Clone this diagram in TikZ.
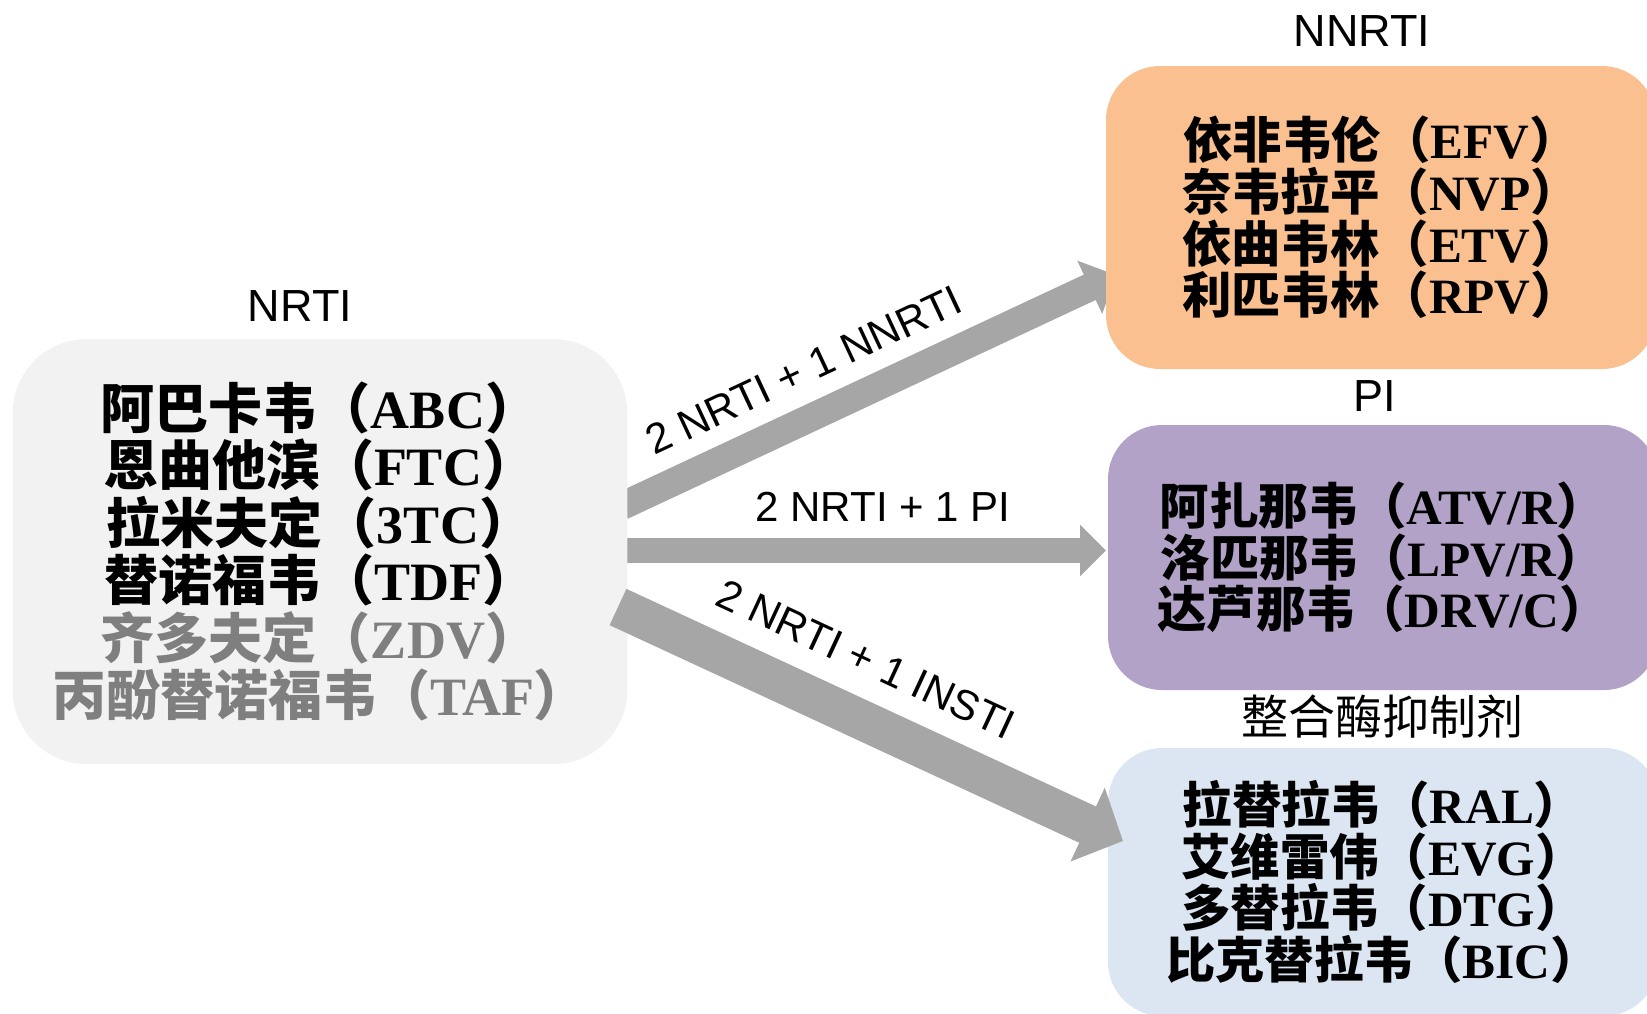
\documentclass[tikz,border=0pt]{standalone}
\usepackage{fontspec}
\usetikzlibrary{arrows.meta}
\setmainfont{Liberation Sans}
\newfontfamily\cjk{Noto Sans CJK SC}
\newfontfamily\tnr{Liberation Serif}
\newfontfamily\arial{Liberation Sans}
\definecolor{arrowgray}{HTML}{A6A6A6}
\definecolor{nrtifill}{HTML}{F2F2F2}
\definecolor{nnrtifill}{HTML}{FAC090}
\definecolor{pifill}{HTML}{B3A2C7}
\definecolor{instifill}{HTML}{DCE6F2}
\definecolor{graytext}{HTML}{7F7F7F}
\pgfdeclarelayer{bg}
\pgfsetlayers{bg,main}
\newcommand\drugline[2]{{\cjk\bfseries #1（}{\tnr\bfseries #2}{\cjk\bfseries ）}}
\begin{document}
\begin{tikzpicture}[x=0.5pt,y=-0.5pt,
  box/.style={rounded corners=27pt, minimum width=275pt, inner sep=0pt, align=center,
    font=\fontsize{24.7pt}{25.85pt}\selectfont},
  bigbox/.style={rounded corners=37pt, minimum width=307.25pt, minimum height=212.5pt,
    inner sep=0pt, align=center, fill=nrtifill, font=\fontsize{27pt}{28.7pt}\selectfont},
  grouplabel/.style={inner sep=0pt, font=\arial\fontsize{22.5pt}{27pt}\selectfont},
  arrowlabel/.style={inner sep=0pt, font=\arial\fontsize{21pt}{25pt}\selectfont},
  fatarrow/.style args={#1/#2/#3}{draw=arrowgray, line width=#1,
    -{Triangle[length=#3, width=#2]}}
]
\useasboundingbox (0,0) rectangle (1647,1013);
\clip (0,0) rectangle (1647,1013);

% boxes
\node[bigbox] (nrti) at (320,551.5) {%
  \drugline{阿巴卡韦}{ABC}\\
  \drugline{恩曲他滨}{FTC}\\
  \drugline{拉米夫定}{3TC}\\
  \drugline{替诺福韦}{TDF}\\
  \textcolor{graytext}{\drugline{齐多夫定}{ZDV}}\\
  \textcolor{graytext}{\drugline{丙酚替诺福韦}{TAF}}};
\node[box, fill=nnrtifill, minimum height=151.5pt] (nnrti) at (1381,217.5) {%
  \drugline{依非韦伦}{EFV}\\
  \drugline{奈韦拉平}{NVP}\\
  \drugline{依曲韦林}{ETV}\\
  \drugline{利匹韦林}{RPV}};
\node[box, fill=pifill, minimum height=132.5pt] (pi) at (1383,557.5) {%
  \drugline{阿扎那韦}{ATV/R}\\
  \drugline{洛匹那韦}{LPV/R}\\
  \drugline{达芦那韦}{DRV/C}};
\node[box, fill=instifill, minimum height=134pt] (insti) at (1383,882) {%
  \drugline{拉替拉韦}{RAL}\\
  \drugline{艾维雷伟}{EVG}\\
  \drugline{多替拉韦}{DTG}\\
  \drugline{比克替拉韦}{BIC}};

% group labels
\node[grouplabel] (lnrti) at (300,306) {NRTI};
\node[grouplabel] (lnnrti) at (1362,31) {NNRTI};
\node[grouplabel] (lpi) at (1375,396) {PI};
\node[inner sep=0pt, font=\cjk\fontsize{23.5pt}{27pt}\selectfont] (linsti) at (1382,717) {整合酶抑制剂};

% arrow end points
\coordinate (t1) at (622,506);
\coordinate (h1) at (1116,275);
\coordinate (t2) at (627,550.5);
\coordinate (h2) at (1106,550.5);
\coordinate (t3) at (618,607);
\coordinate (h3) at (1123,841);

\begin{pgfonlayer}{bg}
\draw[fatarrow={14pt/28.5pt/14.5pt}] (t1) -- (h1);
\draw[fatarrow={12.5pt/25pt/13pt}] (t2) -- (h2);
\end{pgfonlayer}
\draw[fatarrow={20pt/39.5pt/19.5pt}] (t3) -- (h3);

% arrow labels
\node[arrowlabel, rotate=25.05] (a1) at (803.5,370) {2 NRTI + 1 NNRTI};
\node[arrowlabel] (a2) at (883,507) {2 NRTI + 1 PI};
\node[arrowlabel, rotate=-24.9] (a3) at (866,659) {2 NRTI + 1 INSTI};
\end{tikzpicture}
\end{document}
